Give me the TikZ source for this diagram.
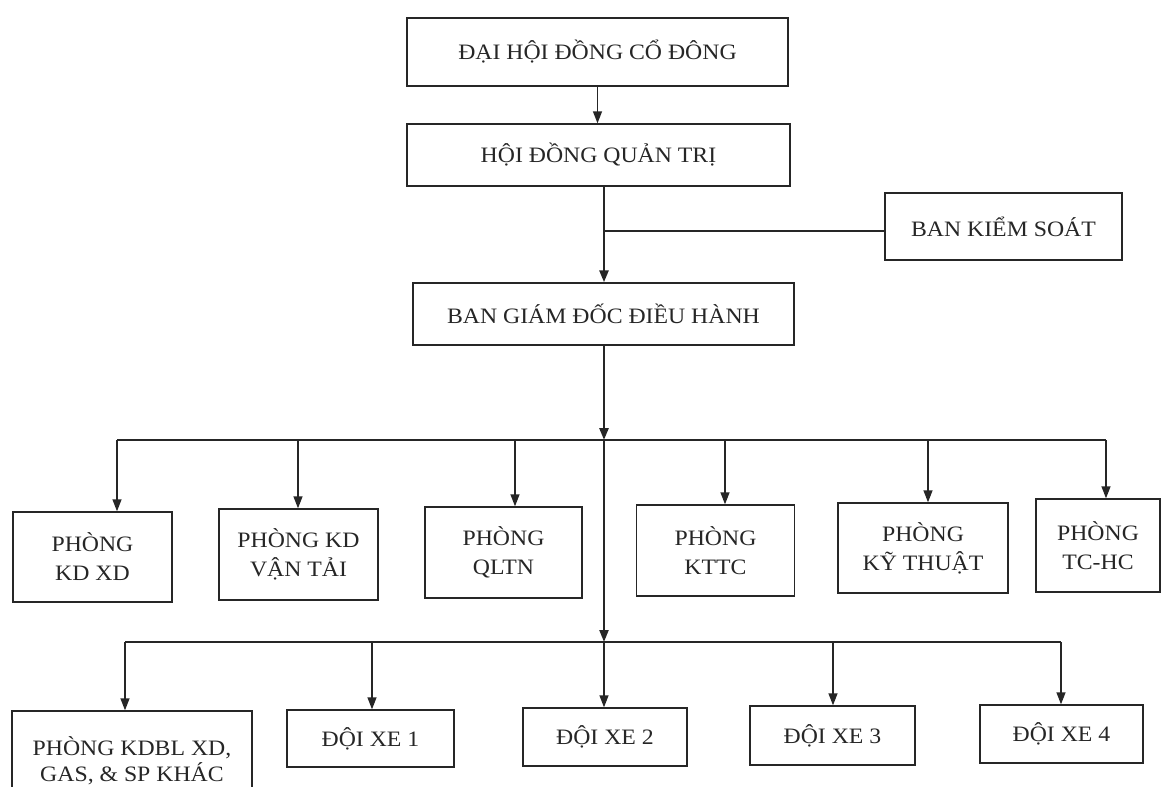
\documentclass[tikz,border=0pt]{standalone}
\usepackage{fontspec}
\setmainfont{Liberation Serif}[FakeStretch=1.08]
\usetikzlibrary{arrows.meta}
\begin{document}
\begin{tikzpicture}[x=1pt,y=-1pt,
  box/.style={draw=black!85, line width=1.4pt, inner sep=0pt, align=center,
    font=\fontsize{22}{29}\selectfont, text=black!85},
  arr/.style={-{Triangle[length=12pt,width=9pt]}, line width=1.4pt, draw=black!85},
  busline/.style={line width=1.8pt, draw=black!85},
  mainline/.style={line width=2.6pt, draw=black!85}]
\useasboundingbox (0,0) rectangle (1163,787);
\clip (0,0) rectangle (1163,787);
\fill[white] (0,0) rectangle (1163,787);

% top levels
\node[box, minimum width=381pt, minimum height=68pt] (dhd) at (597.5,52) {ĐẠI HỘI ĐỒNG CỔ ĐÔNG};
\node[box, minimum width=383pt, minimum height=62pt] (hdqt) at (598.5,155) {HỘI ĐỒNG QUẢN TRỊ};
\node[box, minimum width=237pt, minimum height=67pt] (bks) at (1003.5,226.5) {BAN KIỂM SOÁT};
\node[box, minimum width=381pt, minimum height=62pt] (bgd) at (603.5,314) {BAN GIÁM ĐỐC ĐIỀU HÀNH};

% departments
\node[box, minimum width=159pt, minimum height=90pt] (kdxd) at (92.5,557) {PHÒNG\\KD XD};
\node[box, minimum width=159pt, minimum height=91pt] (vt) at (298.5,554.5) {PHÒNG KD\\VẬN TẢI};
\node[box, minimum width=157pt, minimum height=91pt] (qltn) at (503.5,552.5) {PHÒNG\\QLTN};
\node[box, minimum width=158pt, minimum height=91pt] (kttc) at (715.5,550.5) {PHÒNG\\KTTC};
\node[box, minimum width=170pt, minimum height=90pt] (kt) at (923,548) {PHÒNG\\KỸ THUẬT};
\node[box, minimum width=124pt, minimum height=93pt] (tchc) at (1098,545.5) {PHÒNG\\TC-HC};

% bottom row
\node[box, minimum width=240pt, minimum height=100pt, font=\fontsize{22}{26}\selectfont] (kdbl) at (132,761) {PHÒNG KDBL XD,\\GAS, \& SP KHÁC};
\node[box, minimum width=167pt, minimum height=57pt] (dx1) at (370.5,738.5) {ĐỘI XE 1};
\node[box, minimum width=164pt, minimum height=58pt] (dx2) at (605,737) {ĐỘI XE 2};
\node[box, minimum width=165pt, minimum height=59pt] (dx3) at (832.5,735.5) {ĐỘI XE 3};
\node[box, minimum width=163pt, minimum height=58pt] (dx4) at (1061.5,734) {ĐỘI XE 4};

% coordinates
\coordinate (j) at (604,231);
\coordinate (c1) at (604,440);
\coordinate (c2) at (604,642);
\coordinate (a1) at (117,440);
\coordinate (a2) at (298,440);
\coordinate (a3) at (515,440);
\coordinate (a4) at (725,440);
\coordinate (a5) at (928,440);
\coordinate (a6) at (1106,440);
\coordinate (b1) at (125,642);
\coordinate (b2) at (372,642);
\coordinate (b4) at (833,642);
\coordinate (b5) at (1061,642);

% connectors
\draw[arr] (dhd.south) -- (dhd.south |- hdqt.north);
\draw[mainline, arr, line width=2.6pt] (hdqt.south -| j) -- (bgd.north -| j);
\draw[busline] (j) -- (j -| bks.west);
\draw[mainline, arr, line width=2.6pt] (bgd.south -| c1) -- (c1);
\draw[mainline, arr, line width=2.2pt] (c1) -- (c2);
\draw[arr] (c2) -- (dx2.north -| c2);

\draw[busline] (a1) -- (a6);
\draw[arr] (a1) -- (a1 |- kdxd.north);
\draw[arr] (a2) -- (a2 |- vt.north);
\draw[arr] (a3) -- (a3 |- qltn.north);
\draw[arr] (a4) -- (a4 |- kttc.north);
\draw[arr] (a5) -- (a5 |- kt.north);
\draw[arr] (a6) -- (a6 |- tchc.north);

\draw[busline] (b1) -- (b5);
\draw[arr] (b1) -- (b1 |- kdbl.north);
\draw[arr] (b2) -- (b2 |- dx1.north);
\draw[arr] (b4) -- (b4 |- dx3.north);
\draw[arr] (b5) -- (b5 |- dx4.north);
\end{tikzpicture}
\end{document}
